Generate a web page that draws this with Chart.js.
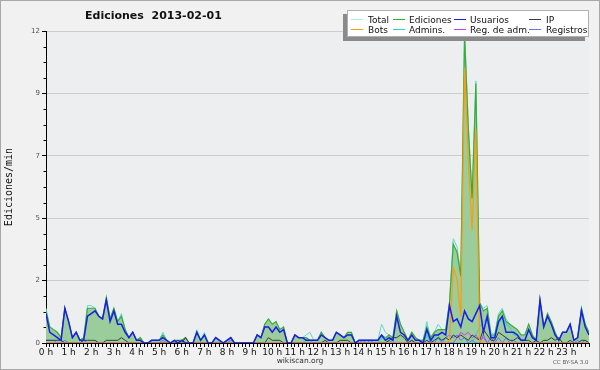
<!DOCTYPE html>
<html>
<head>
<meta charset="utf-8">
<script src="https://cdn.jsdelivr.net/npm/chart.js@4.4.1/dist/chart.umd.min.js"></script>
<style>
  html, body { margin: 0; padding: 0; background: #f1f1f1; }
  #wrap { position: relative; width: 600px; height: 370px; overflow: hidden; font-family: "DejaVu Sans", sans-serif; }
  #wrap canvas { position: absolute; left: 0; top: 0; }
  #frame { position: absolute; left: 0; top: 0; width: 600px; height: 370px; box-sizing: border-box; border: 1px solid #a8a8a8; pointer-events: none; }
  #title { position: absolute; left: 85px; top: 9px; font: bold 11px "DejaVu Sans"; color: #111; white-space: pre; }
  #legend { position: absolute; left: 347px; top: 10px; width: 242px; height: 27px; box-sizing: border-box;
            background: #fff; border: 1px solid #b0b0b0; box-shadow: -4px 4px 0 #8a8a8a; }
  .sw { position: absolute; width: 12px; height: 1px; }
  .lb { position: absolute; font: 9px "DejaVu Sans"; line-height: 10px; color: #111; white-space: nowrap; }
  #foot { position: absolute; left: 0; width: 600px; top: 356px; text-align: center; font: 7.5px "DejaVu Sans"; color: #333; }
  #lic { position: absolute; left: 553px; top: 359px; font: 5.5px "DejaVu Sans"; color: #555; }
</style>
</head>
<body>
<div id="wrap">
  <canvas id="c" width="600" height="370"></canvas>
  <div id="title">Ediciones  2013-02-01</div>
  <div id="legend"></div>
  <div id="foot">wikiscan.org</div>
  <div id="lic">CC BY-SA 3.0</div>
  <div id="frame"></div>
</div>
<script>
// one value per 10 minutes, 00:00 .. 24:00 (one row per hour)
const total = [
  1.3,0.6,0.5,0.4,0.2,1.3,
  0.8,0.2,0.4,0.1,0.2,1.4,
  1.4,1.3,1.0,0.9,1.7,0.9,
  1.3,0.8,1.1,0.5,0.2,0.4,
  0.1,0.2,0,0,0.1,0.1,
  0.1,0.4,0.1,0,0.1,0.1,
  0.1,0.2,0,0,0.5,0.1,
  0.4,0,0,0.2,0.1,0,
  0.1,0.2,0,0,0,0,
  0,0,0.3,0.2,0.7,0.9,
  0.7,0.8,0.5,0.6,0,0,
  0.3,0.2,0.2,0.3,0.4,0.1,
  0.1,0.4,0.2,0.1,0.1,0.4,
  0.3,0.2,0.4,0.4,0,0.1,
  0.1,0.1,0.1,0.1,0.1,0.7,
  0.4,0.3,0.2,1.2,0.7,0.4,
  0.1,0.4,0.2,0.1,0.1,0.8,
  0.2,0.4,0.7,0.5,0.5,1.5,
  3.9,3.6,2.6,11.67,8.1,5.5,
  9.8,1.5,1.3,1.4,0.4,0.3,
  1.1,1.3,0.9,0.7,0.6,0.5,
  0.3,0.3,0.7,0.3,0.1,1.6,
  0.6,1.1,0.8,0.4,0.1,0.4,
  0.4,0.7,0.1,0.2,1.3,0.7,
  0.4
];
const ediciones = [
  1.2,0.6,0.5,0.4,0.2,1.3,
  0.8,0.2,0.4,0.1,0.2,1.3,
  1.3,1.3,1.0,0.9,1.7,0.9,
  1.3,0.8,1.0,0.5,0.2,0.4,
  0.1,0.2,0,0,0.1,0.1,
  0.1,0.3,0.1,0,0.1,0.1,
  0.1,0.2,0,0,0.4,0.1,
  0.3,0,0,0.2,0.1,0,
  0.1,0.2,0,0,0,0,
  0,0,0.3,0.2,0.7,0.9,
  0.7,0.8,0.5,0.6,0,0,
  0.3,0.2,0.2,0.2,0.1,0.1,
  0.1,0.4,0.2,0.1,0.1,0.4,
  0.3,0.2,0.4,0.4,0,0.1,
  0.1,0.1,0.1,0.1,0.1,0.3,
  0.2,0.3,0.2,1.2,0.7,0.4,
  0.1,0.4,0.2,0.1,0.1,0.6,
  0.2,0.4,0.5,0.5,0.5,1.5,
  3.7,3.4,2.5,11.5,8.0,5.4,
  9.7,1.5,1.2,1.3,0.3,0.3,
  1.0,1.2,0.8,0.7,0.6,0.5,
  0.3,0.3,0.7,0.3,0.1,1.6,
  0.6,1.1,0.8,0.4,0.1,0.4,
  0.4,0.7,0.1,0.2,1.3,0.7,
  0.4
];
const usuarios = [
  1.1,0.4,0.3,0.2,0.1,1.3,
  0.8,0.2,0.4,0.1,0.1,1.0,
  1.1,1.2,1.0,0.9,1.6,0.8,
  1.2,0.7,0.7,0.4,0.2,0.4,
  0.1,0.1,0,0,0.1,0.1,
  0.1,0.2,0.1,0,0.1,0,
  0.1,0,0,0,0.4,0.1,
  0.3,0,0,0.2,0.1,0,
  0.1,0.2,0,0,0,0,
  0,0,0.3,0.2,0.6,0.6,
  0.4,0.6,0.4,0.5,0,0,
  0.3,0.2,0.2,0.1,0.1,0.1,
  0.1,0.3,0.2,0.1,0.1,0.4,
  0.3,0.2,0.3,0.3,0,0.1,
  0.1,0.1,0.1,0.1,0.1,0.3,
  0.1,0.2,0.1,1.0,0.4,0.3,
  0.1,0.3,0.1,0.1,0,0.5,
  0.1,0.3,0.3,0.4,0.3,1.4,
  0.8,0.9,0.6,1.2,0.9,0.8,
  1.1,1.4,0.4,1.0,0.2,0.2,
  0.8,1.0,0.4,0.4,0.4,0.3,
  0.1,0.1,0.5,0.2,0.1,1.6,
  0.6,1.0,0.7,0.3,0.1,0.4,
  0.4,0.7,0.1,0.2,1.2,0.6,
  0.3
];
const ip = [
  0.1,0.1,0.1,0.1,0.1,0,
  0,0,0,0,0.1,0.1,
  0.1,0.1,0,0,0.1,0.1,
  0.1,0.1,0.2,0.1,0,0,
  0,0,0,0,0,0,
  0,0,0,0,0,0.1,
  0,0.2,0,0,0,0,
  0,0,0,0,0,0,
  0,0,0,0,0,0,
  0,0,0,0,0,0.2,
  0.1,0.1,0.1,0,0,0,
  0,0,0,0,0,0,
  0,0,0.1,0,0,0,
  0.1,0.1,0.1,0,0,0,
  0,0,0,0,0,0,
  0,0.1,0.2,0.2,0.3,0.2,
  0,0.1,0,0,0,0.1,
  0,0.1,0.2,0.1,0.2,0.1,
  0.3,0.2,0.3,0.2,0.1,0.3,
  0.2,0.1,0.5,0.3,0.1,0.1,
  0.4,0.3,0.2,0.1,0.1,0.2,
  0.1,0.1,0.1,0,0.1,0,
  0.1,0.1,0.2,0.1,0.2,0,
  0,0.1,0,0,0.1,0.1,
  0
];
const bots = [
  0,0,0,0,0,0, 0,0,0,0,0,0, 0,0,0,0,0,0, 0,0,0,0,0,0,
  0,0,0,0,0,0, 0,0,0,0,0,0, 0,0,0,0,0,0, 0,0,0,0,0,0,
  0,0,0,0,0,0, 0,0,0,0,0,0, 0,0,0,0,0,0, 0,0,0,0,0,0,
  0,0,0,0,0,0, 0,0,0,0,0,0, 0,0,0,0,0,0, 0,0,0,0,0,0,
  0,0,0,0,0,0,
  0,0,0,0,0,0.1,
  2.8,2.4,1.0,10.3,6.8,4.2,
  8.0,0.1,0,0,0,0,
  0,0,0,0,0,0, 0,0,0,0,0,0, 0,0,0,0,0,0, 0,0,0,0,0,0,
  0
];
const admins = [
  0,0,0,0,0,0, 0,0,0,0,0,0, 0,0,0,0,0,0, 0,0,0,0,0,0,
  0,0,0,0,0,0, 0,0,0,0,0,0, 0,0,0,0,0,0, 0,0,0,0,0,0,
  0,0,0,0,0,0, 0,0,0,0,0,0, 0,0,0,0,0,0,
  0,0,0,0.1,0.1,0,
  0,0,0,0,0,0, 0,0,0,0,0,0,
  0,0,0,0,0,0.2,
  0.2,0,0,0,0,0,
  0,0,0,0,0,0.3,
  0,0.2,0.3,0,0,0,
  0,0,0,0,0,0,
  0.3,0.6,0.8,0.9,0.3,0.2,
  0.7,1.0,0.7,0.6,0.3,0.3,
  0.1,0,0,0,0,0,
  0,0,0,0,0,0, 0,0,0,0,0,0,
  0
];
const regAdm = [
  0,0,0,0,0,0, 0,0,0,0,0,0, 0,0,0,0,0,0, 0,0,0,0,0,0,
  0,0,0,0,0,0, 0,0,0,0,0,0, 0,0,0,0,0,0, 0,0,0,0,0,0,
  0,0,0,0,0,0, 0,0,0,0,0,0, 0,0,0,0,0,0, 0,0,0,0,0,0,
  0,0,0,0,0,0, 0,0,0,0,0,0, 0,0,0,0,0,0, 0,0,0,0,0,0,
  0,0,0,0,0,0, 0,0,0,0,0,0,
  0,0.2,0.4,0.3,0.4,0.2,
  0.3,0.1,0.2,0,0,0,
  0,0,0,0,0,0, 0,0,0,0,0,0, 0,0,0,0,0,0, 0,0,0,0,0,0,
  0
];
const registros = [
  0.1,0.1,0.1,0,0,0.1,
  0,0,0,0,0.1,0,
  0,0,0,0,0,0, 0,0,0,0,0,0, 0,0,0,0,0,0,
  0,0.1,0,0,0,0,
  0,0,0,0,0,0, 0,0,0,0,0,0,
  0,0.1,0,0,0,0,
  0,0,0,0,0,0, 0,0,0,0,0,0, 0,0,0,0,0,0, 0,0,0,0,0,0, 0,0,0,0,0,0,
  0.1,0,0.1,0,0,0,
  0,0.1,0,0,0,0,
  0,0.1,0,0,0,0,
  0.1,0,0.2,0,0.2,0.3,
  0.2,0.3,0.1,0.2,0,0.1,
  0,0,0.3,0,0.2,0,
  0.2,0,0.2,0,0.1,0,
  0,0,0,0,0.1,0,
  0,0,0,0,0,0,
  0,0,0,0.1,0,0.1,
  0
];

// axis ticks as printed on the picture
const yMax = 11.667;
const yTicks = [0, 2.333, 4.667, 7, 9.333, 11.667];
const yTickLabels = ['0', '2', '5', '7', '9', '12'];
const yMinorPerMajor = 4;
const binsPerHour = 6;
const hourCount = 24;

const series = [
  { label: 'Total',        data: total,     color: '#5fdccb', width: 1,   order: 9 },
  { label: 'Ediciones',    data: ediciones, color: '#3aab3a', width: 1.2, order: 8, fill: '#9acd9b' },
  { label: 'Usuarios',     data: usuarios,  color: '#1c1ce8', width: 1.5, order: 1 },
  { label: 'IP',           data: ip,        color: '#3a3a3a', width: 1,   order: 3 },
  { label: 'Bots',         data: bots,      color: '#ff9a10', width: 1.2, order: 2 },
  { label: 'Admins.',      data: admins,    color: '#2fd0d0', width: 1,   order: 6 },
  { label: 'Reg. de adm.', data: regAdm,    color: '#d23cf0', width: 1,   order: 4 },
  { label: 'Registros',    data: registros, color: '#6f6ff8', width: 1,   order: 5 }
];

const xTickValues = [];
for (let i = 0; i <= hourCount * binsPerHour; i++) xTickValues.push(i);

const datasets = series.map(s => ({
  label: s.label,
  data: s.data.map((v, i) => ({ x: i, y: v })),
  borderColor: s.color,
  borderWidth: s.width,
  backgroundColor: s.fill || s.color,
  fill: s.fill ? 'origin' : false,
  pointRadius: 0,
  tension: 0,
  order: s.order
}));

// plot background + minor ticks on the value axis
const axisExtras = {
  id: 'axisExtras',
  beforeDraw(chart) {
    const { ctx, chartArea: a } = chart;
    ctx.save();
    ctx.fillStyle = '#edeef0';
    ctx.fillRect(a.left, a.top, a.right - a.left, a.bottom - a.top);
    ctx.restore();
  },
  afterDraw(chart) {
    const y = chart.scales.y;
    const ctx = chart.ctx;
    ctx.save();
    ctx.strokeStyle = '#000';
    ctx.lineWidth = 1;
    ctx.beginPath();
    for (let k = 0; k < yTicks.length - 1; k++) {
      const step = (yTicks[k + 1] - yTicks[k]) / yMinorPerMajor;
      for (let m = 1; m < yMinorPerMajor; m++) {
        const p = Math.round(y.getPixelForValue(yTicks[k] + m * step)) + 0.5;
        ctx.moveTo(y.right - 2.5, p);
        ctx.lineTo(y.right, p);
      }
    }
    ctx.stroke();
    ctx.restore();
  }
};

Chart.defaults.font.family = 'DejaVu Sans';

new Chart(document.getElementById('c'), {
  type: 'line',
  data: { datasets },
  options: {
    responsive: false,
    animation: false,
    layout: { padding: { top: 31, right: 11, left: 0, bottom: 0 } },
    plugins: { legend: { display: false }, tooltip: { enabled: false } },
    scales: {
      x: {
        type: 'linear', min: 0, max: hourCount * binsPerHour,
        afterBuildTicks: s => { s.ticks = xTickValues.map(v => ({ value: v })); },
        afterFit: s => { s.height = 27; },
        ticks: {
          autoSkip: false, maxRotation: 0, minRotation: 0, padding: 0,
          color: '#111', font: { size: 9 },
          callback: v => (v % binsPerHour === 0 && v < hourCount * binsPerHour) ? (v / binsPerHour) + ' h' : ''
        },
        grid: { drawOnChartArea: false, tickLength: 4, tickColor: '#000' },
        border: { color: '#000', width: 1 }
      },
      y: {
        min: 0, max: yMax,
        afterBuildTicks: s => { s.ticks = yTicks.map(v => ({ value: v })); },
        afterFit: s => { s.width = 46; },
        ticks: { padding: 2, color: '#555', font: { size: 7 }, callback: (v, i) => yTickLabels[i] },
        grid: { color: '#cdcdcd', tickLength: 4, tickColor: '#000' },
        border: { color: '#000', width: 1 },
        title: { display: true, text: 'Ediciones/min', color: '#111',
                 font: { family: 'DejaVu Sans Mono', size: 10 }, padding: { top: 3, bottom: 0 } }
      }
    }
  },
  plugins: [axisExtras]
});

// legend box, 4 columns x 2 rows
const legendCols = [[3, 20], [45, 61], [106, 122], [181, 198]];
const legendRows = [9, 19];
const legendOrder = ['Total', 'Ediciones', 'Usuarios', 'IP', 'Bots', 'Admins.', 'Reg. de adm.', 'Registros'];
const legend = document.getElementById('legend');
legendOrder.forEach((name, k) => {
  const s = series.find(d => d.label === name);
  const col = legendCols[k % 4], row = legendRows[Math.floor(k / 4)];
  const sw = document.createElement('div');
  sw.className = 'sw';
  sw.style.left = col[0] + 'px';
  sw.style.top = (row - 1) + 'px';
  sw.style.background = name === 'Total' ? '#a8eee2' : s.color;
  legend.appendChild(sw);
  const lb = document.createElement('div');
  lb.className = 'lb';
  lb.style.left = col[1] + 'px';
  lb.style.top = (row - 5) + 'px';
  lb.textContent = name;
  legend.appendChild(lb);
});
</script>
</body>
</html>
